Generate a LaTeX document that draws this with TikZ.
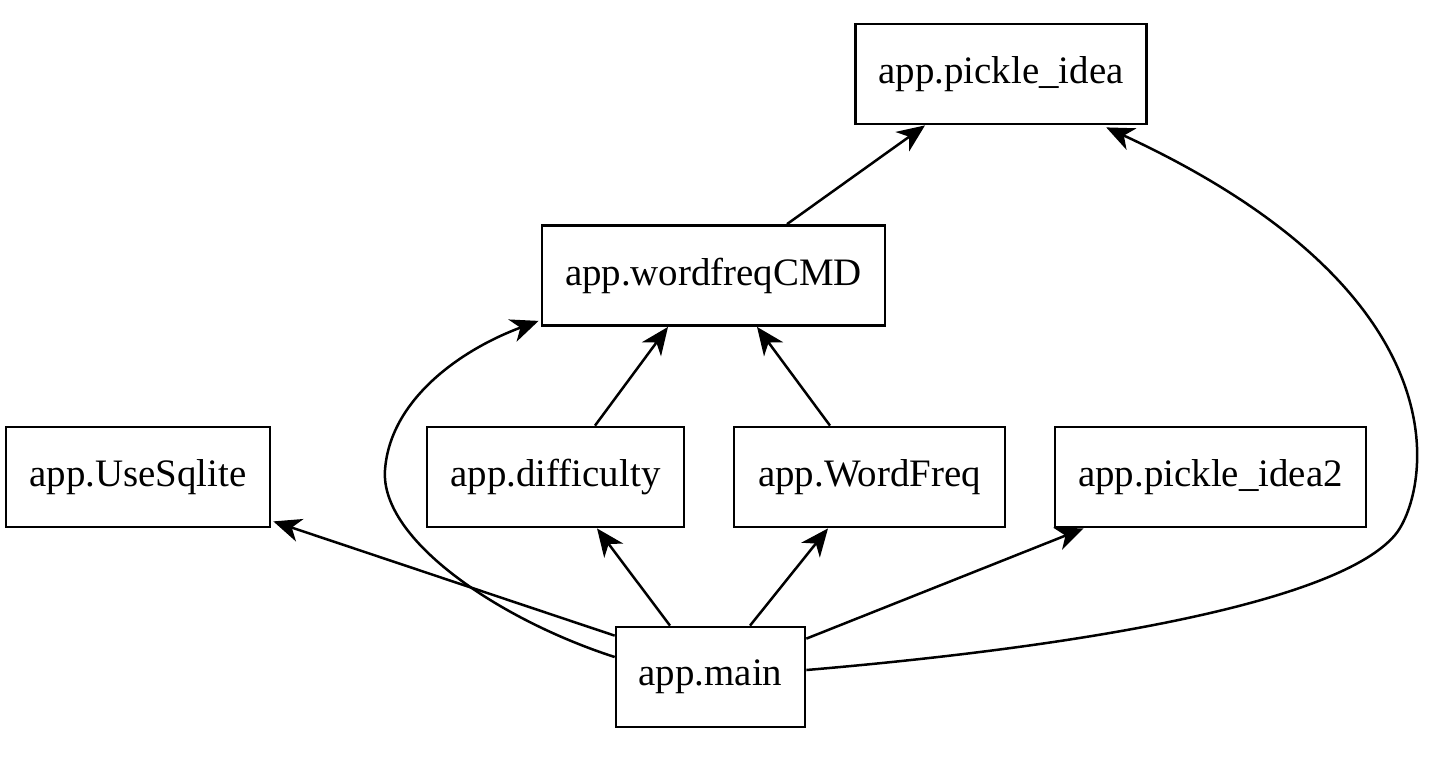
\documentclass[tikz,border=0pt]{standalone}
\usepackage{fontspec}
\setmainfont{Liberation Serif}
\usetikzlibrary{arrows.meta,calc}
\begin{document}
\begin{tikzpicture}[x=0.36pt,y=-0.36pt,
  box/.style={draw,line width=1pt,rectangle,minimum height=36pt,inner sep=2pt,font=\fontsize{14pt}{16pt}\selectfont},
  edge/.style={line width=0.9pt,-{Stealth[length=10pt,width=8.5pt,inset=3pt]}}]
\useasboundingbox (0,0) rectangle (1434,762);
\node[box,minimum width=105pt] (pickle) at (1001,74) {app.pickle\_idea};
\node[box,minimum width=123.5pt] (cmd) at (713.5,275.5) {app.wordfreqCMD};
\node[box,minimum width=95pt] (us) at (138,477) {app.UseSqlite};
\node[box,minimum width=92.5pt] (diff) at (555.5,477) {app.difficulty};
\node[box,minimum width=97.5pt] (wf) at (869.5,477) {app.WordFreq};
\node[box,minimum width=112pt] (p2) at (1210.5,477) {app.pickle\_idea2};
\node[box,minimum width=68pt] (main) at (710.5,677) {app.main};

\draw[edge] ($(cmd.north)+(73.5,0)$) -- ($(pickle.south)+(-76,0)$);
\draw[edge] ($(diff.north)+(39.5,0)$) -- ($(cmd.south)+(-45.5,0)$);
\draw[edge] ($(wf.north)+(-39.5,0)$) -- ($(cmd.south)+(43.5,0)$);
\draw[edge] ($(main.north west)+(0,10)$) -- ($(us.south east)+(2,-7)$);
\draw[edge] ($(main.north)+(-40.5,0)$) -- ($(diff.south)+(41.5,0)$);
\draw[edge] ($(main.north)+(39.5,0)$) -- ($(wf.south)+(-41.5,0)$);
\draw[edge] ($(main.north east)+(0,13)$) -- ($(p2.south west)+(30,0)$);
\draw[edge] ($(main.east)+(0,-7)$) .. controls (1100,645) and (1340,600) .. (1395,535)
  .. controls (1425,500) and (1480,300) .. ($(pickle.south east)+(-42,2)$);
\draw[edge] ($(main.west)+(0,-20)$) .. controls (500,620) and (380,540) .. (385,470)
  .. controls (390,400) and (460,350) .. ($(cmd.south west)+(-2,-6)$);
\end{tikzpicture}
\end{document}
